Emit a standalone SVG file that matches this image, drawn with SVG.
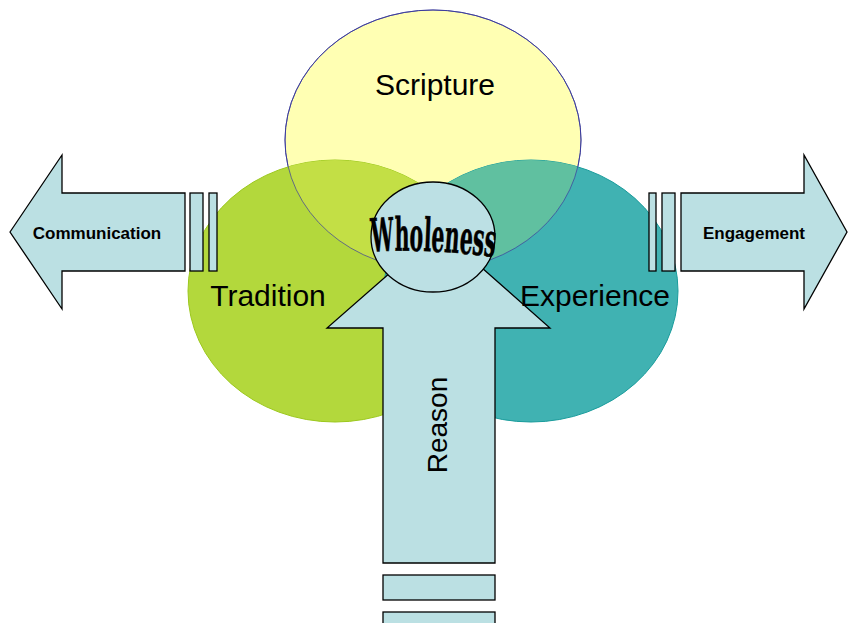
<svg xmlns="http://www.w3.org/2000/svg" width="848" height="623" viewBox="0 0 848 623">
  <style>
    .arrow { fill: #bbe0e3; stroke: #000000; stroke-width: 1.3; stroke-linejoin: miter; }
    .lbl { font-family: "Liberation Sans", Arial, sans-serif; fill: #000000; }
    .big { font-size: 30px; }
    .small { font-size: 17px; font-weight: bold; }
  </style>
  <defs>
    <clipPath id="clipScripture">
      <ellipse cx="433" cy="140" rx="148" ry="130"/>
    </clipPath>
    <path id="wavePath" d="M 372,252 Q 420,248 496,257"/>
  </defs>

  <g id="scripture">
    <ellipse cx="433" cy="140" rx="148" ry="130" fill="#ffffb3" stroke="#3c3c9c" stroke-width="1"/>
  </g>
  <g id="tradition">
    <ellipse cx="335" cy="291" rx="147" ry="131" fill="#b3d83c" stroke="#9cc81e" stroke-width="1"/>
    <ellipse cx="335" cy="291" rx="147" ry="131" fill="#c3df45" clip-path="url(#clipScripture)"/>
  </g>
  <g id="experience">
    <ellipse cx="531" cy="291" rx="147" ry="131" fill="#40b2b2" stroke="#1a9c9c" stroke-width="1"/>
    <ellipse cx="531" cy="291" rx="147" ry="131" fill="#60c0a0" clip-path="url(#clipScripture)"/>
  </g>
  <ellipse cx="433" cy="140" rx="148" ry="130" fill="none" stroke="#3c3c9c" stroke-width="1" stroke-opacity="0.7"/>

  <g id="connectors">
    <g id="communication-arrow">
      <polygon class="arrow" points="10,232 62,155 62,193 185,193 185,271 62,271 62,309"/>
      <rect class="arrow" x="190" y="193" width="13" height="78"/>
      <rect class="arrow" x="209" y="193" width="8" height="78"/>
    </g>
    <g id="engagement-arrow">
      <rect class="arrow" x="649" y="193" width="7" height="78"/>
      <rect class="arrow" x="662" y="193" width="13" height="78"/>
      <polygon class="arrow" points="847,232 804,155 804,193 681,193 681,271 804,271 804,309"/>
    </g>
    <g id="reason-arrow">
      <polygon class="arrow" points="439,230 550,328 495,328 495,563 383,563 383,328 327,328"/>
      <rect class="arrow" x="383" y="575" width="112" height="25"/>
      <rect class="arrow" x="383" y="612" width="112" height="25"/>
    </g>
  </g>

  <g id="wholeness">
    <ellipse cx="433" cy="237" rx="62" ry="55" fill="#bce0e4" stroke="#000000" stroke-width="1.3"/>
    <text font-family="'DejaVu Serif', 'Liberation Serif', serif" font-weight="bold" font-size="46" fill="#000000" stroke="#000000" stroke-width="0.6"><textPath href="#wavePath" textLength="123" lengthAdjust="spacingAndGlyphs">Wholeness</textPath></text>
  </g>

  <text class="lbl big" x="435" y="95" text-anchor="middle">Scripture</text>
  <text class="lbl big" x="268" y="306" text-anchor="middle">Tradition</text>
  <text class="lbl big" x="595" y="306" text-anchor="middle">Experience</text>
  <text class="lbl" font-size="28" transform="translate(447,425) rotate(-90)" text-anchor="middle">Reason</text>
  <text class="lbl small" x="97" y="239" text-anchor="middle">Communication</text>
  <text class="lbl small" x="754" y="239" text-anchor="middle">Engagement</text>
</svg>
